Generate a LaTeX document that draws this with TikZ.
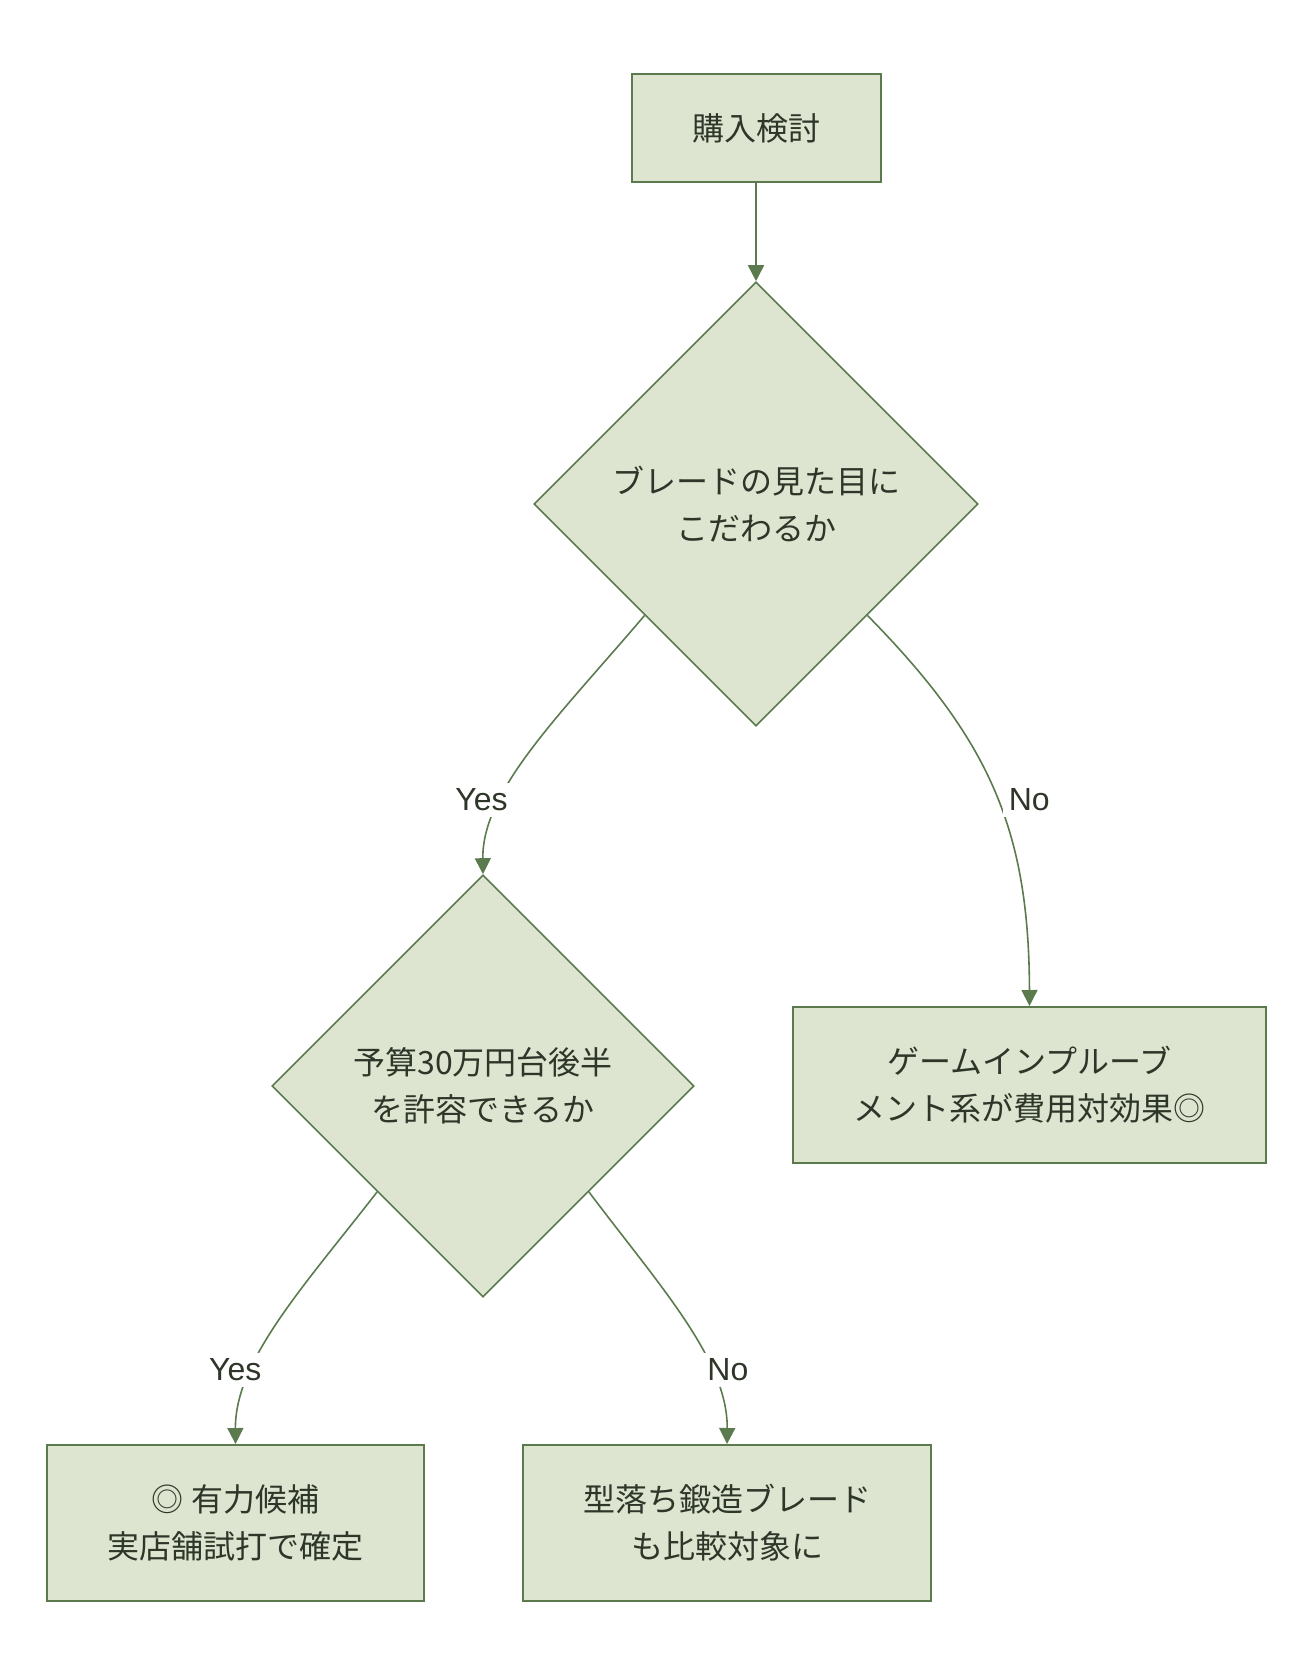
\documentclass[tikz,border=0pt]{standalone}
\usepackage{fontspec}
\newfontfamily\jpfont{Noto Sans CJK JP}
\newfontfamily\latinfont{Liberation Sans}
\usetikzlibrary{arrows.meta,shapes.geometric}
\definecolor{Leaf}{HTML}{5B7A4E}
\definecolor{LightLeaf}{HTML}{DDE5D0}
\definecolor{Ink}{HTML}{2E3629}
\definecolor{White}{HTML}{FFFFFF}

\begin{document}
\begin{tikzpicture}[x=1pt, y=-1pt,
  every node/.style={font=\jpfont\fontsize{32}{47}\selectfont, text=Ink},
  box/.style={draw=Leaf, line width=2pt, fill=LightLeaf, align=center, inner sep=0pt},
  choice/.style={draw=Leaf, line width=1.6pt, fill=LightLeaf, align=center, diamond, aspect=1, inner sep=0pt},
  flow/.style={-{Triangle[length=16pt, width=16pt]}, line width=1.6pt, color=Leaf},
  answer/.style={fill=White, inner sep=6pt, font=\latinfont\fontsize{32}{38}\selectfont}]
\useasboundingbox (0,0) rectangle (1314,1680);
\node[box, minimum width=249pt, minimum height=108pt] (start) at (756,128) {購入検討};
\node[choice, minimum width=444pt, minimum height=444pt] (looks) at (756,504) {ブレードの見た目に\\こだわるか};
\node[choice, minimum width=422pt, minimum height=422pt] (budget) at (483,1086) {予算30万円台後半\\を許容できるか};
\node[box, minimum width=473pt, minimum height=156pt] (gi) at (1029.5,1085) {ゲームインプルーブ\\メント系が費用対効果◎};
\node[box, minimum width=377pt, minimum height=156pt] (shop) at (235.5,1523) {◎ 有力候補\\実店舗試打で確定};
\node[box, minimum width=408pt, minimum height=156pt] (forged) at (727,1523) {型落ち鍛造ブレード\\も比較対象に};
\draw[flow] (start.south) -- (looks.north);
\draw[flow] (looks.south west) .. controls (560,715) and (482,790) .. node[answer, pos=0.7, xshift=-20pt] (yes1) {Yes} (budget.north);
\draw[flow] (looks.south east) .. controls (990,740) and (1029,830) .. node[answer, pos=0.5, xshift=35pt, yshift=-8pt] (no1) {No} (gi.north);
\draw[flow] (budget.south west) .. controls (305,1285) and (235,1360) .. node[answer, pos=0.7, xshift=-17pt] (yes2) {Yes} (shop.north);
\draw[flow] (budget.south east) .. controls (659,1285) and (728,1360) .. node[answer, pos=0.7, xshift=17pt] (no2) {No} (forged.north);
\end{tikzpicture}
\end{document}
